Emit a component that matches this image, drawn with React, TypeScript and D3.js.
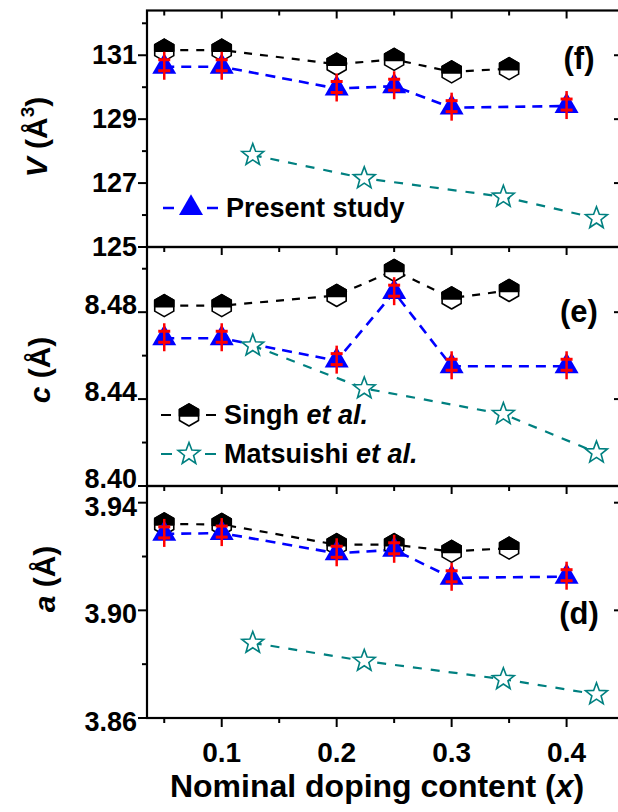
import React from 'react';
import * as d3 from 'd3';

const W = 618;
const H = 812;
const FONT = "'Liberation Sans', Arial, Helvetica, sans-serif";

// ---- data ----
const xSingh = [0.05, 0.1, 0.2, 0.25, 0.3, 0.35];
const xPresent = [0.05, 0.1, 0.2, 0.25, 0.3, 0.4];
const xMats = [0.127, 0.224, 0.345, 0.426];

const vSingh = [131.16, 131.16, 130.72, 130.87, 130.48, 130.58];
const vPresent = [130.64, 130.64, 129.96, 130.03, 129.36, 129.41];
const vMats = [127.875, 127.15, 126.57, 125.9];

const cSingh = [8.483, 8.483, 8.4877, 8.4992, 8.4865, 8.49];
const cPresent = [8.468, 8.468, 8.4577, 8.4892, 8.4551, 8.4551];
const cMats = [8.4646, 8.4449, 8.4331, 8.4154];

const aSingh = [3.9321, 3.9319, 3.9244, 3.9244, 3.9219, 3.9231];
const aPresent = [3.9284, 3.9287, 3.9212, 3.9225, 3.9121, 3.9125];
const aMats = [3.8879, 3.8812, 3.8744, 3.8688];

const xMajor = [0.1, 0.2, 0.3, 0.4];
const xMinor = [0.05, 0.15, 0.25, 0.35];

const vMajor = [125, 127, 129, 131];
const vMinor = [126, 128, 130, 132];
const cMajor = [8.40, 8.44, 8.48];
const cMinor = [8.42, 8.46, 8.50];
const aMajor = [3.86, 3.90, 3.94];
const aMinor = [3.88, 3.92];

const BLACK = '#000000';
const BLUE = '#0000ff';
const TEAL = '#008080';
const RED = '#ff0000';

function Hex({ cx, cy, r = 11 }: { cx: number; cy: number; r?: number }) {
  const c = r * Math.cos(Math.PI / 6);
  const full = `M${cx},${cy - r}L${cx + c},${cy - r / 2}L${cx + c},${cy + r / 2}L${cx},${cy + r}L${cx - c},${cy + r / 2}L${cx - c},${cy - r / 2}Z`;
  const top = `M${cx},${cy - r}L${cx + c},${cy - r / 2}L${cx + c},${cy + 1}L${cx - c},${cy + 1}L${cx - c},${cy - r / 2}Z`;
  return (
    <g>
      <path d={full} fill="#fff" stroke={BLACK} strokeWidth={1.6} strokeLinejoin="round" />
      <path d={top} fill={BLACK} stroke={BLACK} strokeWidth={1.6} strokeLinejoin="round" />
    </g>
  );
}

function Tri({ cx, cy, s = 24 }: { cx: number; cy: number; s?: number }) {
  const up = s / Math.sqrt(3);
  const dn = s / (2 * Math.sqrt(3));
  return <path d={`M${cx},${cy - up}L${cx + s / 2},${cy + dn}L${cx - s / 2},${cy + dn}Z`} fill={BLUE} />;
}

function Star({ cx, cy, R = 11.5 }: { cx: number; cy: number; R?: number }) {
  const rIn = R * 0.42;
  const pts: string[] = [];
  for (let i = 0; i < 10; i++) {
    const ang = -Math.PI / 2 + (i * Math.PI) / 5;
    const rr = i % 2 === 0 ? R : rIn;
    pts.push(`${cx + rr * Math.cos(ang)},${cy + rr * Math.sin(ang)}`);
  }
  return <polygon points={pts.join(' ')} fill="#fff" stroke={TEAL} strokeWidth={1.6} strokeLinejoin="miter" />;
}

function ErrBar({ cx, cy }: { cx: number; cy: number }) {
  return (
    <g stroke={RED}>
      <line x1={cx} x2={cx} y1={cy - 15} y2={cy + 13} strokeWidth={2.5} />
      <line x1={cx - 6} x2={cx + 6} y1={cy - 7} y2={cy - 7} strokeWidth={3} />
      <line x1={cx - 6} x2={cx + 6} y1={cy + 4} y2={cy + 4} strokeWidth={3} />
    </g>
  );
}

export default function App() {
  const left = 147;
  const right = 622;
  const x = d3.scaleLinear().domain([0.035, 0.4482]).range([left, right]);

  const panels = [
    {
      key: 'V',
      y: d3.scaleLinear().domain([125, 132.4]).range([247, 10.5]),
      major: vMajor, minor: vMinor, fmt: (d: number) => d3.format('d')(d),
      singh: vSingh, present: vPresent, mats: vMats,
      tag: '(f)', tagY: 69, lblDy: 9,
    },
    {
      key: 'c',
      y: d3.scaleLinear().domain([8.40, 8.51]).range([486, 247]),
      major: cMajor, minor: cMinor, fmt: (d: number) => d3.format('.2f')(d),
      singh: cSingh, present: cPresent, mats: cMats,
      tag: '(e)', tagY: 322, lblDy: 2,
    },
    {
      key: 'a',
      y: d3.scaleLinear().domain([3.86, 3.9462]).range([718, 486]),
      major: aMajor, minor: aMinor, fmt: (d: number) => d3.format('.2f')(d),
      singh: aSingh, present: aPresent, mats: aMats,
      tag: '(d)', tagY: 624, lblDy: 13,
    },
  ];

  const line = (xs: number[], ys: number[], y: d3.ScaleLinear<number, number>) =>
    d3.line<number>().x((_, i) => x(xs[i])).y((d) => y(d))(ys) || '';

  return (
    <svg width={W} height={H} viewBox={`0 0 ${W} ${H}`}
      style={{ position: 'absolute', left: 0, top: 0, background: '#fff' }}
      fontFamily={FONT}>
      <rect x={0} y={0} width={W} height={H} fill="#fff" />
      {panels.map((p) => {
        const [y0, y1] = p.y.range();
        return (
          <g key={p.key}>
            <path d={line(xSingh, p.singh, p.y)} fill="none" stroke={BLACK} strokeWidth={2.2} strokeDasharray="8,8" />
            <path d={line(xPresent, p.present, p.y)} fill="none" stroke={BLUE} strokeWidth={2.6} strokeDasharray="10,7" />
            <path d={line(xMats, p.mats, p.y)} fill="none" stroke={TEAL} strokeWidth={2.2} strokeDasharray="9,9" />
            {xSingh.map((xv, i) => <Hex key={'h' + i} cx={x(xv)} cy={p.y(p.singh[i])} />)}
            {xPresent.map((xv, i) => <Tri key={'t' + i} cx={x(xv)} cy={p.y(p.present[i])} />)}
            {xPresent.map((xv, i) => <ErrBar key={'e' + i} cx={x(xv)} cy={p.y(p.present[i])} />)}
            {xMats.map((xv, i) => <Star key={'s' + i} cx={x(xv)} cy={p.y(p.mats[i])} />)}

            <rect x={left} y={y1} width={right - left} height={y0 - y1} fill="none" stroke={BLACK} strokeWidth={2.2} />
            {p.major.map((t) => (
              <line key={'lm' + t} x1={left - 9} x2={left} y1={p.y(t)} y2={p.y(t)} stroke={BLACK} strokeWidth={2} />
            ))}
            {p.minor.map((t) => (
              <line key={'ln' + t} x1={left - 5} x2={left} y1={p.y(t)} y2={p.y(t)} stroke={BLACK} strokeWidth={2} />
            ))}
            {p.major.map((t) => (
              <line key={'rm' + t} x1={right - 8} x2={right} y1={p.y(t)} y2={p.y(t)} stroke={BLACK} strokeWidth={2} />
            ))}
            {p.minor.map((t) => (
              <line key={'rn' + t} x1={right - 4} x2={right} y1={p.y(t)} y2={p.y(t)} stroke={BLACK} strokeWidth={2} />
            ))}
            {xMajor.map((t) => (
              <line key={'tm' + t} x1={x(t)} x2={x(t)} y1={y1} y2={y1 + 8} stroke={BLACK} strokeWidth={2} />
            ))}
            {xMinor.map((t) => (
              <line key={'tn' + t} x1={x(t)} x2={x(t)} y1={y1} y2={y1 + 5} stroke={BLACK} strokeWidth={2} />
            ))}
            {p.major.map((t) => (
              <text key={'tl' + t} x={137} y={p.y(t) + p.lblDy} textAnchor="end" fontSize={27} fontWeight="bold">
                {p.fmt(t)}
              </text>
            ))}
            <text x={579} y={p.tagY} textAnchor="middle" fontSize={31} fontWeight="bold">{p.tag}</text>
          </g>
        );
      })}

      {xMajor.map((t) => (
        <line key={'bm' + t} x1={x(t)} x2={x(t)} y1={718} y2={727} stroke={BLACK} strokeWidth={2} />
      ))}
      {xMinor.map((t) => (
        <line key={'bn' + t} x1={x(t)} x2={x(t)} y1={718} y2={723} stroke={BLACK} strokeWidth={2} />
      ))}
      {xMajor.map((t) => (
        <text key={'bl' + t} x={x(t)} y={762} textAnchor="middle" fontSize={28} fontWeight="bold">
          {d3.format('.1f')(t)}
        </text>
      ))}
      <text x={377} y={797} textAnchor="middle" fontSize={32} fontWeight="bold">
        Nominal doping content (<tspan fontStyle="italic">x</tspan>)
      </text>

      <text transform="translate(47,137) rotate(-90)" textAnchor="middle" fontSize={30} fontWeight="bold">
        <tspan fontStyle="italic">V</tspan> (Å<tspan fontSize={19} dy={-13}>3</tspan><tspan dy={13}>)</tspan>
      </text>
      <text transform="translate(50,370) rotate(-90)" textAnchor="middle" fontSize={30} fontWeight="bold">
        <tspan fontStyle="italic">c</tspan> (Å)
      </text>
      <text transform="translate(55,579) rotate(-90)" textAnchor="middle" fontSize={30} fontWeight="bold">
        <tspan fontStyle="italic">a</tspan> (Å)
      </text>

      <g>
        <line x1={163} x2={218} y1={208} y2={208} stroke={BLUE} strokeWidth={2.6} strokeDasharray="11,33" />
        <Tri cx={191} cy={208} />
        <text x={226} y={217} fontSize={27} fontWeight="bold">Present study</text>
      </g>
      <g>
        <line x1={161} x2={216} y1={415} y2={415} stroke={BLACK} strokeWidth={2} strokeDasharray="10,35" />
        <Hex cx={189} cy={415} />
        <text x={224} y={424} fontSize={27} fontWeight="bold">
          Singh <tspan fontStyle="italic">et al.</tspan>
        </text>
      </g>
      <g>
        <line x1={161} x2={216} y1={454} y2={454} stroke={TEAL} strokeWidth={2.2} strokeDasharray="11,33" />
        <Star cx={189} cy={454} />
        <text x={224} y={463} fontSize={27} fontWeight="bold">
          Matsuishi <tspan fontStyle="italic">et al.</tspan>
        </text>
      </g>
    </svg>
  );
}
